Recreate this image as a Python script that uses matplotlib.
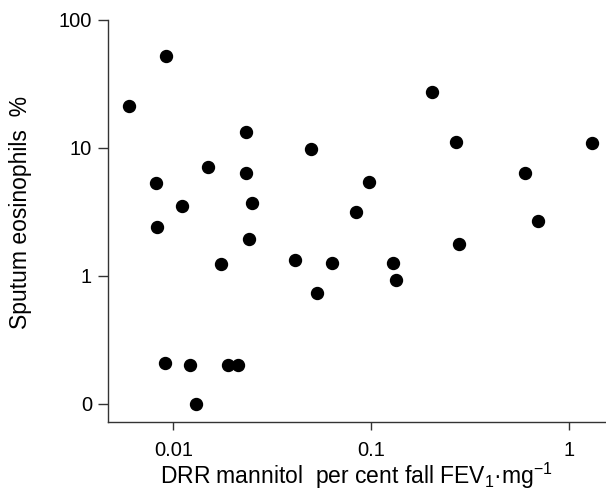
import matplotlib.pyplot as plt
import numpy as np

# DRR mannitol (x) and sputum eosinophils % (y)
drr = np.array([0.0060, 0.0092, 0.0082, 0.0083, 0.0111, 0.0150, 0.0233, 0.0233,
                0.0250, 0.0242, 0.0174, 0.0091, 0.0121, 0.0130, 0.0188, 0.0213,
                0.0413, 0.0496, 0.0532, 0.0631, 0.0834, 0.0977, 0.1291, 0.1337,
                0.2018, 0.2668, 0.2773, 0.5995, 0.6920, 1.307])
eos = np.array([21.3, 52.6, 5.31, 2.42, 3.54, 7.14, 13.3, 6.39,
                3.73, 1.96, 1.24, 0.21, 0.20, 0.0, 0.20, 0.20,
                1.33, 9.83, 0.73, 1.26, 3.14, 5.45, 1.26, 0.93,
                27.4, 11.1, 1.77, 6.34, 2.68, 10.9])

x_ticks = [0.01, 0.1, 1]
x_labels = ['0.01', '0.1', '1']
y_ticks = [0.1, 1, 10, 100]   # zero is drawn where 0.1 would sit on the log axis
y_labels = ['0', '1', '10', '100']

plt.rcParams['font.family'] = ['Liberation Sans', 'DejaVu Sans']
plt.rcParams['mathtext.fontset'] = 'custom'
plt.rcParams['mathtext.rm'] = 'Liberation Sans'

fig = plt.figure(figsize=(6.06, 4.95), dpi=100)
ax = fig.add_axes([0.1782, 0.1475, 0.8218, 0.8121])

y_plot = np.where(eos == 0, 0.1, eos)
ax.plot(drr, y_plot, 'o', color='black', markersize=8.6, clip_on=False)

ax.set_xscale('log')
ax.set_yscale('log')
ax.set_xlim(0.00468, 1.53)
ax.set_ylim(0.0723, 100)

ax.set_xticks(x_ticks)
ax.set_xticklabels(x_labels)
ax.set_yticks(y_ticks)
ax.set_yticklabels(y_labels)
ax.minorticks_off()

for s in ['top', 'right']:
    ax.spines[s].set_visible(False)
for s in ['left', 'bottom']:
    ax.spines[s].set_color('#333333')
    ax.spines[s].set_linewidth(1.0)

ax.tick_params(axis='x', length=6, width=1, color='#333333', labelsize=14.5, pad=8)
ax.tick_params(axis='y', length=7.5, width=1, color='#333333', labelsize=14.5, pad=4)

ax.set_xlabel(r'DRR mannitol  per cent fall FEV$_{\mathrm{1}}$·mg$^{\mathrm{-1}}$',
              fontsize=16.5)
ax.set_ylabel('Sputum eosinophils  %', fontsize=16.5)
ax.xaxis.set_label_coords(0.5, -0.097)
ax.yaxis.set_label_coords(-0.152, 0.522)

plt.savefig('out.png', dpi=100)
